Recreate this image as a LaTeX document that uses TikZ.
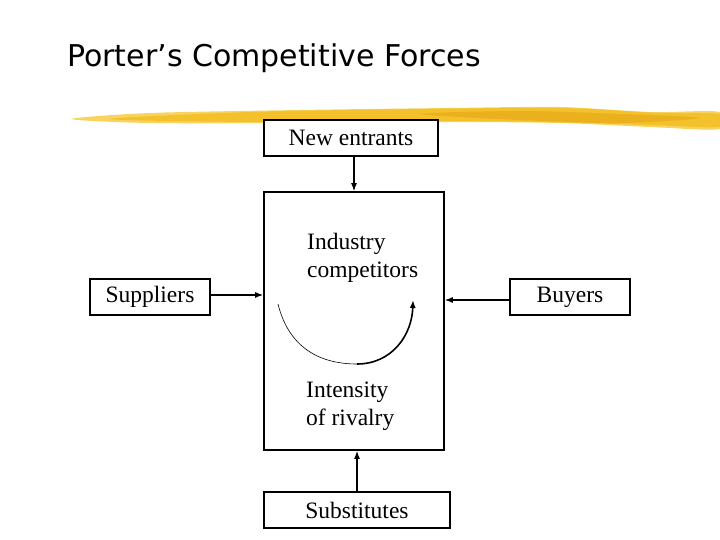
\documentclass[tikz,border=0pt]{standalone}
\usepackage{fontspec}
\setmainfont{Liberation Serif}
\newfontfamily\titlefont{DejaVu Sans}
\usetikzlibrary{arrows.meta}
\definecolor{brushA}{HTML}{F2C12C}
\definecolor{brushB}{HTML}{F8D45E}
\definecolor{brushC}{HTML}{EBB01E}
\tikzset{
  box/.style={draw, line width=1.6pt, fill=white, inner sep=0pt, font=\fontsize{23.5}{28}\selectfont},
  force/.style={line width=1.4pt, -{Latex[length=8pt,width=6pt]}},
  lbl/.style={inner sep=0pt, font=\fontsize{23.5}{28}\selectfont, anchor=base west},
}
\begin{document}
\begin{tikzpicture}[x=1pt,y=-1pt]
\useasboundingbox (0,0) rectangle (720,540);
% brush stroke
\fill[brushB] plot[smooth cycle] coordinates {(72,119) (150,113) (300,110) (450,108) (560,107) (650,112) (720,112) (720,129) (650,127) (560,123) (450,122) (300,123) (150,123)};
\fill[brushA] plot[smooth cycle] coordinates {(110,119) (250,112) (420,109) (560,108) (660,113) (719,114) (719,127) (650,125) (540,122) (420,121) (250,122)};
\fill[brushC] plot[smooth cycle] coordinates {(420,114) (520,111) (620,114) (700,118) (620,123) (520,120)};
% title
\node[anchor=base west, inner sep=0pt, font=\titlefont\fontsize{30}{34}\selectfont] (title) at (67,67) {Porter’s Competitive Forces};
% boxes
\node[box, minimum width=174pt, minimum height=36pt] (ne) at (351,138) {New entrants};
\node[box, minimum width=180pt, minimum height=258pt] (ind) at (354,321) {};
\node[box, minimum width=120pt, minimum height=36pt] (sup) at (150,297) {Suppliers};
\node[box, minimum width=120pt, minimum height=36pt] (buy) at (570,297) {Buyers};
\node[box, minimum width=186pt, minimum height=36pt] (sub) at (357,510) {Substitutes};
% inner labels
\node[lbl] (l1) at (307,249) {Industry};
\node[lbl] (l2) at (307,277) {competitors};
\node[lbl] (l3) at (306,397) {Intensity};
\node[lbl] (l4) at (306,425) {of rivalry};
% arrows
\draw[force] (ne.south -| ind.north) -- (ind.north);
\draw[force] ([yshift=2pt]sup.east) -- ([yshift=2pt]sup.east -| ind.west);
\draw[force] ([yshift=-3pt]buy.west) -- ([yshift=-3pt]buy.west -| ind.east);
\draw[force] (sub.north) -- (sub.north |- ind.south);
% rivalry arc
\draw[line width=0.6pt] (278,304) .. controls (290,352) and (325,364) .. (357,364);
\draw[line width=1.6pt, -{Latex[length=8pt,width=6pt]}] (357,364) .. controls (392,364) and (412,335) .. (413,300);
\end{tikzpicture}
\end{document}
